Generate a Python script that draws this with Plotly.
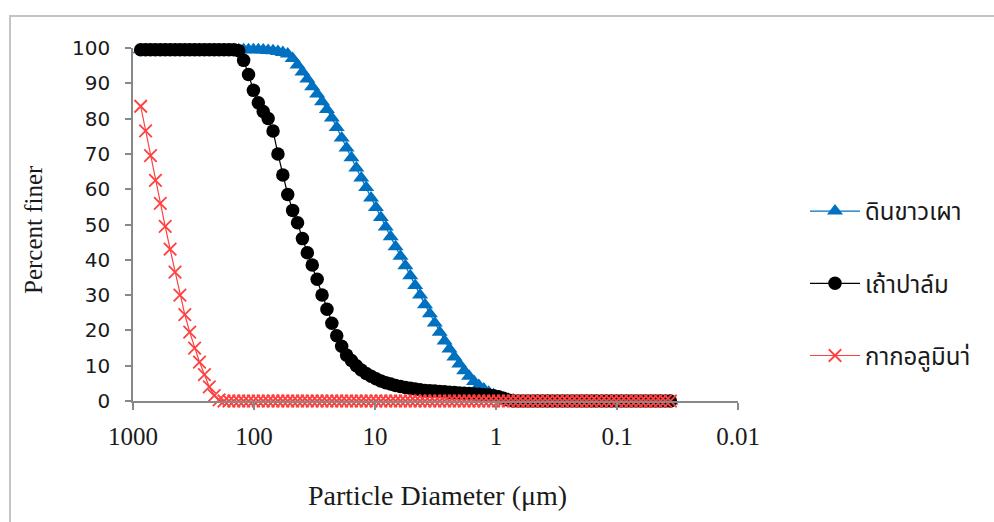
import plotly.graph_objects as go

# Particle diameters (µm) of the analyser size channels, coarse -> fine
diameter_um = [
    863.9, 786.9, 716.9, 653.0, 594.9, 541.9, 493.6, 449.7, 409.6, 373.1,
    339.9, 309.6, 282.1, 256.9, 234.1, 213.2, 194.2, 176.9, 161.2, 146.8,
    133.7, 121.8, 111.0, 101.1, 92.09, 83.89, 76.42, 69.61, 63.41, 57.77,
    52.62, 47.94, 43.67, 39.78, 36.24, 33.01, 30.07, 27.39, 24.95, 22.73,
    20.71, 18.86, 17.18, 15.65, 14.26, 12.99, 11.83, 10.78, 9.817, 8.943,
    8.147, 7.421, 6.760, 6.158, 5.610, 5.110, 4.655, 4.240, 3.863, 3.519,
    3.205, 2.920, 2.660, 2.423, 2.207, 2.010, 1.832, 1.668, 1.520, 1.385,
    1.261, 1.149, 1.047, 0.953, 0.868, 0.791, 0.721, 0.656, 0.598, 0.545,
    0.496, 0.452, 0.412, 0.375, 0.342, 0.311, 0.283, 0.258, 0.235, 0.214,
    0.195, 0.178, 0.162, 0.148, 0.134, 0.122, 0.111, 0.101, 0.0921, 0.0839,
    0.0764, 0.0696, 0.0634, 0.0578, 0.0526, 0.0479, 0.0437, 0.0398, 0.0362,
]

# ดินขาวเผา (calcined kaolin) - percent finer
kaolin = [
    99.5, 99.5, 99.5, 99.5, 99.5, 99.5, 99.5, 99.5, 99.5, 99.5,
    99.5, 99.5, 99.5, 99.5, 99.5, 99.5, 99.5, 99.5, 99.5, 99.5,
    99.5, 99.5, 99.5, 99.5, 99.5, 99.4, 99.3, 99.2, 99.0, 98.7,
    98.3, 97.0, 95.2, 93.2, 91.2, 89.0, 87.0, 84.8, 82.6, 80.2,
    77.5, 74.5, 71.7, 68.9, 66.0, 63.2, 60.5, 57.5, 54.8, 52.0,
    49.3, 46.5, 43.7, 41.0, 38.3, 35.5, 32.7, 30.0, 27.3, 24.7,
    22.1, 19.5, 17.0, 14.7, 12.5, 10.5, 8.6, 7.0, 5.5, 4.4,
    3.4, 2.5, 1.8, 1.2, 0.8, 0.5, 0.3, 0.1, 0.0, 0.0,
    0.0, 0.0, 0.0, 0.0, 0.0, 0.0, 0.0, 0.0, 0.0, 0.0,
    0.0, 0.0, 0.0, 0.0, 0.0, 0.0, 0.0, 0.0, 0.0, 0.0,
    0.0, 0.0, 0.0, 0.0, 0.0, 0.0, 0.0, 0.0, 0.0,
]

# เถ้าปาล์ม (palm ash) - percent finer
palm_ash = [
    99.5, 99.5, 99.5, 99.5, 99.5, 99.5, 99.5, 99.5, 99.5, 99.5,
    99.5, 99.5, 99.5, 99.5, 99.5, 99.5, 99.5, 99.5, 99.5, 99.5,
    99.2, 96.5, 92.5, 88.0, 84.5, 82.0, 80.0, 76.5, 70.0, 64.0,
    58.5, 54.0, 50.5, 46.0, 42.0, 38.5, 34.5, 30.0, 26.0, 22.0,
    18.5, 15.5, 13.0, 11.5, 10.0, 8.8, 7.8, 7.0, 6.3, 5.7,
    5.2, 4.8, 4.4, 4.1, 3.8, 3.6, 3.4, 3.2, 3.0, 2.9,
    2.8, 2.7, 2.6, 2.5, 2.4, 2.3, 2.2, 2.1, 2.0, 1.9,
    1.8, 1.7, 1.5, 1.2, 0.8, 0.3, 0.0, 0.0, 0.0, 0.0,
    0.0, 0.0, 0.0, 0.0, 0.0, 0.0, 0.0, 0.0, 0.0, 0.0,
    0.0, 0.0, 0.0, 0.0, 0.0, 0.0, 0.0, 0.0, 0.0, 0.0,
    0.0, 0.0, 0.0, 0.0, 0.0, 0.0, 0.0, 0.0, 0.0,
]

# กากอลูมินา่ (alumina residue) - percent finer
alumina = [
    83.5, 76.5, 69.5, 62.5, 56.0, 49.5, 43.0, 36.5, 30.0, 24.5,
    19.5, 15.0, 11.0, 7.5, 4.0, 1.5, 0.3, 0.0, 0.0, 0.0,
    0.0, 0.0, 0.0, 0.0, 0.0, 0.0, 0.0, 0.0, 0.0, 0.0,
    0.0, 0.0, 0.0, 0.0, 0.0, 0.0, 0.0, 0.0, 0.0, 0.0,
    0.0, 0.0, 0.0, 0.0, 0.0, 0.0, 0.0, 0.0, 0.0, 0.0,
    0.0, 0.0, 0.0, 0.0, 0.0, 0.0, 0.0, 0.0, 0.0, 0.0,
    0.0, 0.0, 0.0, 0.0, 0.0, 0.0, 0.0, 0.0, 0.0, 0.0,
    0.0, 0.0, 0.0, 0.0, 0.0, 0.0, 0.0, 0.0, 0.0, 0.0,
    0.0, 0.0, 0.0, 0.0, 0.0, 0.0, 0.0, 0.0, 0.0, 0.0,
    0.0, 0.0, 0.0, 0.0, 0.0, 0.0, 0.0, 0.0, 0.0, 0.0,
    0.0, 0.0, 0.0, 0.0, 0.0, 0.0, 0.0, 0.0, 0.0,
]

series_names = ["ดินขาวเผา", "เถ้าปาล์ม", "กากอลูมินา่"]
x_tickvals = [1000, 100, 10, 1, 0.1, 0.01]
x_ticktext = ["1000", "100", "10", "1", "0.1", "0.01"]
y_tickvals = [0, 10, 20, 30, 40, 50, 60, 70, 80, 90, 100]

fig = go.Figure()
fig.add_trace(go.Scatter(
    x=diameter_um, y=kaolin, name=series_names[0], mode="lines+markers",
    line=dict(color="#0070C0", width=1.2),
    marker=dict(symbol="triangle-up", size=14, color="#0070C0"),
    cliponaxis=False, legendgroup="a",
))
fig.add_trace(go.Scatter(
    x=diameter_um, y=palm_ash, name=series_names[1], mode="lines+markers",
    line=dict(color="#000000", width=1.2),
    marker=dict(symbol="circle", size=13.5, color="#000000"),
    cliponaxis=False, legendgroup="b",
))
fig.add_trace(go.Scatter(
    x=diameter_um, y=alumina, name=series_names[2], mode="lines+markers",
    line=dict(color="#FF4040", width=1.2),
    marker=dict(symbol="x-thin", size=12.5, color="#FF4040",
                line=dict(color="#FF4040", width=1.8)),
    cliponaxis=False, legendgroup="c",
))

W, H = 994, 522
L, R, T, B = 133, 738, 48, 401
pw, ph = R - L, B - T


def px(x):
    return (x - L) / pw


def py(y):
    return (B - y) / ph


fig.update_layout(
    width=W, height=H,
    margin=dict(l=L, r=W - R, t=T, b=H - B, pad=0),
    paper_bgcolor="white", plot_bgcolor="white",
    showlegend=True,
    legend=dict(
        x=px(805), y=py(189), xanchor="left", yanchor="top",
        font=dict(family="Tahoma, 'Noto Sans Thai', 'Noto Sans', sans-serif", size=24, color="#1a1a1a"),
        tracegroupgap=38, itemwidth=50, bgcolor="rgba(0,0,0,0)",
        traceorder="grouped",
    ),
    xaxis=dict(
        type="log", range=[3, -2], tickmode="array",
        tickvals=x_tickvals, ticktext=x_ticktext,
        showgrid=False, zeroline=False, showline=True,
        linecolor="#888888", linewidth=1.5,
        ticks="outside", ticklen=7, tickwidth=1.5, tickcolor="#888888",
        tickfont=dict(family="Liberation Serif", size=25, color="#1a1a1a"),
        ticklabelstandoff=5,
    ),
    yaxis=dict(
        range=[0, 100], tickmode="array", tickvals=y_tickvals,
        showgrid=False, zeroline=False, showline=True,
        linecolor="#888888", linewidth=1.5,
        ticks="outside", ticklen=6, tickwidth=1.5, tickcolor="#888888",
        tickfont=dict(family="DejaVu Sans", size=20, color="#1a1a1a"),
        ticklabelstandoff=11,
    ),
    annotations=[
        dict(text="Particle Diameter (μm)", xref="paper", yref="paper",
             x=px(437), y=py(495), showarrow=False, xanchor="center", yanchor="middle",
             font=dict(family="Liberation Serif", size=28, color="#1a1a1a")),
        dict(text="Percent finer", xref="paper", yref="paper",
             x=px(33), y=py(230), showarrow=False, xanchor="center", yanchor="middle",
             textangle=-90,
             font=dict(family="Liberation Serif", size=25, color="#1a1a1a")),
    ],
    shapes=[
        dict(type="rect", xref="paper", yref="paper",
             x0=px(10), x1=px(1010), y0=py(540), y1=py(16),
             line=dict(color="#c4c4c4", width=2), fillcolor="rgba(0,0,0,0)",
             layer="below"),
    ],
)

fig.write_html("out.html")
